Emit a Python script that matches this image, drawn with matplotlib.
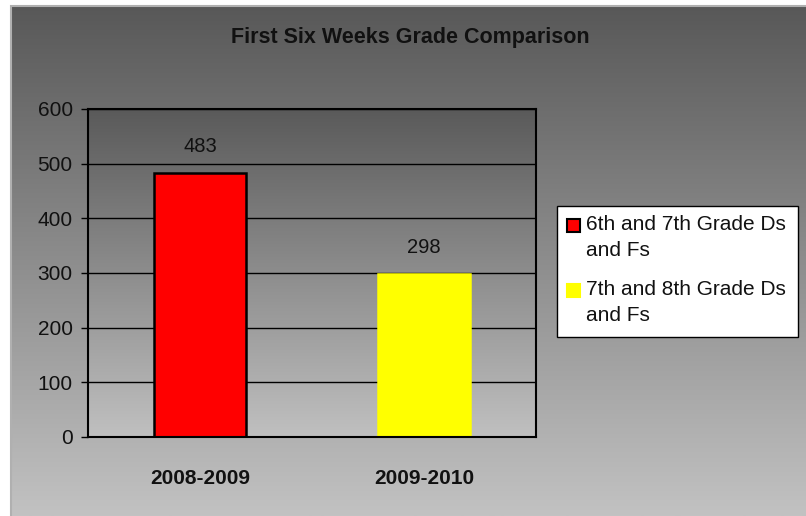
import numpy as np
import matplotlib
matplotlib.use("Agg")
import matplotlib.pyplot as plt
from matplotlib.patches import Rectangle

plt.rcParams['font.family'] = ['Liberation Sans', 'DejaVu Sans']

title = "First Six Weeks Grade Comparison"
categories = ["2008-2009", "2009-2010"]
series_labels = ["6th and 7th Grade Ds\nand Fs", "7th and 8th Grade Ds\nand Fs"]
values = [483, 298]
bar_colors = ["#ff0000", "#ffff00"]
bar_edges = ["#000000", "#ffff00"]
yticks = [0, 100, 200, 300, 400, 500, 600]

W, H = 806, 516
fig = plt.figure(figsize=(W / 100, H / 100), dpi=100)
fig.patch.set_facecolor("white")


def px(xp, yp):
    return xp / W, 1 - yp / H


# chart-area gradient background
bg = fig.add_axes([11 / W, 0, 1 - 11 / W, 1 - 5 / H], zorder=0)
grad = np.linspace(0, 1, 256).reshape(-1, 1)
cmap_bg = matplotlib.colors.LinearSegmentedColormap.from_list("g", ["#585858", "#c2c2c2"])
bg.imshow(grad, aspect="auto", cmap=cmap_bg, extent=[0, 1, 0, 1], origin="upper")
bg.set_axis_off()
fig.add_artist(Rectangle((10.5 / W, -0.1), 1, 1.1 - 5.5 / H, transform=fig.transFigure,
                         fill=False, edgecolor="#b0b0b0", lw=1.5, zorder=0.5))

# plot area
left, right, top, bottom = 88, 536, 109, 437
ax = fig.add_axes([left / W, 1 - bottom / H, (right - left) / W, (bottom - top) / H], zorder=1)
cmap_pa = matplotlib.colors.LinearSegmentedColormap.from_list("p", ["#5a5a5a", "#c0c0c0"])
x = np.arange(len(categories))
ax.set_xlim(-0.5, len(categories) - 0.5)
ax.set_ylim(0, 600)
ax.imshow(grad, aspect="auto", cmap=cmap_pa, extent=[-0.5, len(categories) - 0.5, 0, 600],
          origin="upper", zorder=0)
ax.set_yticks(yticks)
for yv in yticks:
    ax.axhline(yv, color="black", lw=1.0, zorder=1)

ax.bar(x, values, width=0.41, color=bar_colors, edgecolor=bar_edges, lw=1.8, zorder=3)
for xi, v in zip(x, values):
    ax.annotate(str(v), (xi, v), xytext=(0, 19), textcoords="offset points",
                ha="center", va="center", fontsize=14.5, color="#111111", zorder=4)

ax.set_xticks(x)
ax.set_xticklabels(categories, fontsize=15, fontweight="bold", color="#111111")
ax.tick_params(axis="x", length=0, pad=23)
ax.tick_params(axis="y", length=5, width=1, color="black", labelsize=15, labelcolor="#111111", pad=6)
for s in ax.spines.values():
    s.set_color("black")
    s.set_linewidth(1.5)
    s.set_zorder(5)

fig.text(410 / W, 1 - 37 / H, title, ha="center", va="center", fontsize=15.5,
         fontweight="bold", color="#111111")

# legend box (drawn manually so the swatch aligns with the first text line)
lx0, ly0, lx1, ly1 = 557, 206, 798, 337
fig.add_artist(Rectangle(px(lx0, ly1), (lx1 - lx0) / W, (ly1 - ly0) / H,
                         transform=fig.transFigure, facecolor="white",
                         edgecolor="black", lw=1.0, zorder=6))
first_line_y = [225, 290]
for i, (lab, col, ec) in enumerate(zip(series_labels, bar_colors, ["black", bar_colors[1]])):
    yl = first_line_y[i]
    fig.add_artist(Rectangle(px(567, yl + 7), 13 / W, 13 / H, transform=fig.transFigure,
                             facecolor=col, edgecolor=ec, lw=1.5, zorder=7))
    fig.text(*px(586, yl - 10), lab, ha="left", va="top", fontsize=15,
             color="#111111", linespacing=1.45, zorder=7)

fig.savefig("out.png", dpi=100)
